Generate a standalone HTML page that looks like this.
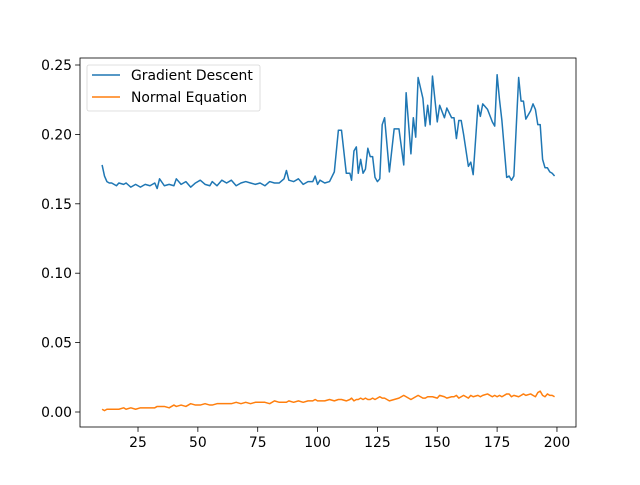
<!DOCTYPE html>
<html><head><meta charset="utf-8"><style>body{margin:0;background:#fff}svg{font-family:"DejaVu Sans","Liberation Sans",sans-serif}</style></head>
<body>
<svg id="chart" width="640" height="480">
<rect width="640" height="480" fill="#fff"/>
<g id="plot"></g>
</svg>
<script>
const xs=[10,11,12,13,14,16,17,19,20,22,24,26,28,30,32,33,34,36,38,40,41,43,45,47,49,51,53,55,56,58,60,62,64,66,68,70,72,74,76,78,80,82,84,86,87,88,90,92,94,96,98,99,100,101,103,105,107,108.7,110,112,113.5,114.2,115.2,116.2,117,118,119,120,121,122,123,124,125,126,127,128,130,132,134,136,137,139,140,141,142,144,145,146,147,148,150,151,153,154,156,157,158,159,160,161,163,164,165,167,168,169,171,173,174,175,176,177,179,180,181,182,184,185,186,187,189,190,191,192,193,194,195,196,197,198,199];
const gradientDescent=[.178,.170,.166,.165,.165,.163,.165,.164,.165,.162,.164,.162,.164,.163,.165,.161,.168,.163,.164,.163,.168,.164,.166,.162,.165,.167,.164,.163,.166,.163,.167,.165,.167,.163,.165,.166,.165,.164,.165,.163,.166,.165,.165,.168,.174,.167,.166,.168,.164,.166,.166,.170,.164,.167,.165,.166,.173,.203,.203,.172,.172,.167,.188,.191,.172,.182,.172,.175,.190,.184,.184,.169,.166,.168,.207,.212,.173,.204,.204,.178,.230,.186,.212,.198,.241,.226,.206,.221,.207,.242,.209,.221,.212,.219,.212,.212,.197,.210,.210,.200,.177,.180,.171,.221,.213,.222,.218,.209,.206,.243,.225,.210,.169,.170,.167,.170,.241,.224,.224,.211,.217,.222,.218,.207,.207,.182,.176,.176,.173,.172,.170];
const normalEquation=[.002,.001,.002,.002,.002,.002,.002,.003,.002,.003,.002,.003,.003,.003,.003,.004,.004,.004,.003,.005,.004,.005,.004,.006,.005,.005,.006,.005,.005,.006,.006,.006,.006,.007,.006,.007,.006,.007,.007,.007,.006,.008,.007,.007,.007,.008,.007,.008,.007,.008,.008,.009,.008,.008,.008,.009,.008,.009,.009,.008,.009,.010,.008,.009,.009,.010,.009,.010,.009,.009,.010,.009,.010,.011,.010,.010,.008,.009,.010,.012,.011,.009,.010,.011,.012,.010,.010,.011,.011,.011,.010,.012,.011,.010,.011,.011,.012,.010,.011,.012,.010,.012,.011,.012,.011,.012,.013,.011,.012,.011,.012,.011,.013,.013,.011,.012,.011,.012,.013,.012,.013,.012,.011,.014,.015,.012,.011,.013,.012,.012,.011];
const xTicks=[25,50,75,100,125,150,175,200];
const yTicks=[0,0.05,0.10,0.15,0.20,0.25];
const yTickLabels=["0.00","0.05","0.10","0.15","0.20","0.25"];
const L=80,R=576,T=58,B=427;
const xS=v=>102.1+(v-10)*2.394;
const yS=v=>412-v*1388;
const NS="http://www.w3.org/2000/svg";
const g=document.getElementById('plot');
function mk(t,a){const e=document.createElementNS(NS,t);for(const k in a)e.setAttribute(k,a[k]);g.appendChild(e);return e;}
xTicks.forEach(v=>{const x=xS(v);
 const t=mk('line',{x1:x,x2:x,y1:B,y2:B+4.9,stroke:'#000','stroke-width':0.8});
 
 
 const l=mk('text',{x:x,y:B+20,'text-anchor':'middle','font-size':13.9});l.textContent=v;
 
 });
yTicks.forEach((v,i)=>{const y=yS(v);
 const t=mk('line',{x1:L-4.9,x2:L,y1:y,y2:y,stroke:'#000','stroke-width':0.8});
 
 
 const l=mk('text',{x:L-8,y:y+5,'text-anchor':'end','font-size':13.9});l.textContent=yTickLabels[i];
 
 });
function series(vals,col,name){const p=mk('polyline',{points:xs.map((x,i)=>xS(x)+','+yS(vals[i])).join(' '),fill:'none',stroke:col,'stroke-width':1.5,'stroke-linejoin':'round'});
 
 }
series(gradientDescent,'#1f77b4','gradient-descent-line');
series(normalEquation,'#ff7f0e','normal-equation-line');
const fr=mk('rect',{x:L,y:T,width:R-L,height:B-T,fill:'none',stroke:'#000','stroke-width':0.8});


const lg=mk('rect',{x:87,y:65,width:173,height:46,rx:2,fill:'#fff',stroke:'#ccc','stroke-width':0.8,opacity:0.8});


[['Gradient Descent','#1f77b4',75],['Normal Equation','#ff7f0e',97]].forEach(([n,c,y])=>{
 const ln=mk('line',{x1:92,x2:120,y1:y,y2:y,stroke:c,'stroke-width':1.5});
 
 
 const t=mk('text',{x:131,y:y+5,'font-size':13.9});t.textContent=n;
 
 });
</script>
</body></html>
